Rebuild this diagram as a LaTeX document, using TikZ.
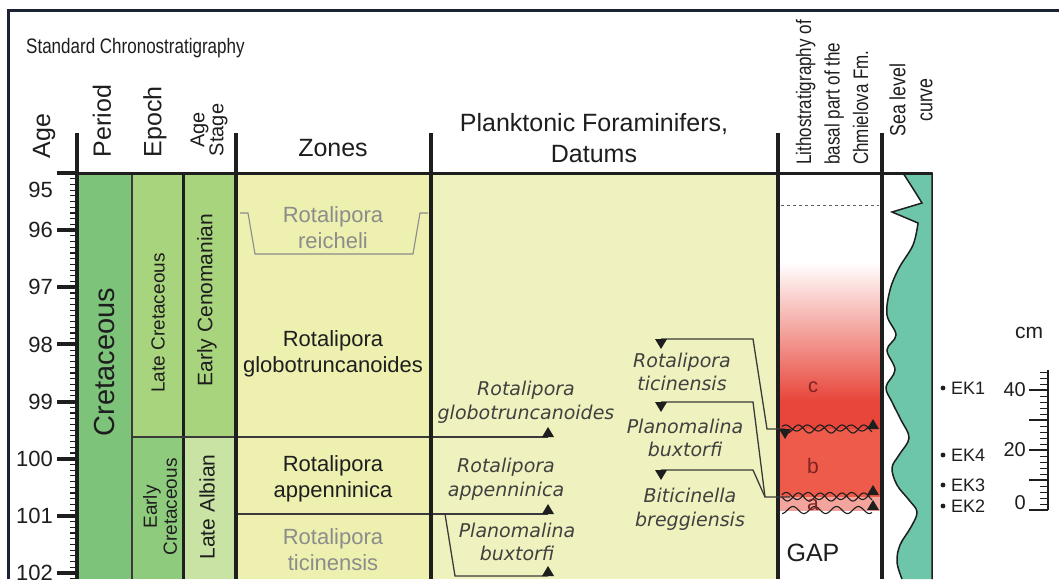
\documentclass[tikz,border=0pt]{standalone}
\usepackage{fontspec}
\setmainfont{Liberation Sans}
\newfontfamily\dvs{DejaVu Sans}
\newfontfamily\narrowf[FakeStretch=0.81]{Liberation Sans}
\newcommand\fsz[2]{\fontsize{#1pt}{#2pt}\selectfont}
\definecolor{cperiod}{HTML}{7DC47A}
\definecolor{cepochL}{HTML}{A7D47C}
\definecolor{cepochE}{HTML}{8FCB7C}
\definecolor{cstageC}{HTML}{A7D47C}
\definecolor{cstageA}{HTML}{C8E3A3}
\definecolor{czone}{HTML}{EEF0B0}
\definecolor{cdatum}{HTML}{EFF2BE}
\definecolor{csea}{HTML}{6DC6A9}
\definecolor{credc}{HTML}{E8463A}
\definecolor{credb}{HTML}{EE5B4B}
\definecolor{creda}{HTML}{F3A49C}
\definecolor{cframe}{HTML}{1B2233}
\definecolor{cgray}{HTML}{8C8C8C}
\definecolor{cdred}{HTML}{7E2222}
\definecolor{ctxt}{HTML}{1E1E1E}
\definecolor{cline}{HTML}{3A3A3A}
\begin{document}
\begin{tikzpicture}[x=1pt,y=-1pt,
  every node/.style={inner sep=0pt, text=ctxt},
  colsep/.style={line width=4pt, draw=ctxt},
  thinline/.style={line width=1.3pt, draw=cline},
  datline/.style={line width=1.3pt, draw=cline},
  hdr/.style={font=\fsz{25}{31}, align=center},
  nhdr/.style={font=\narrowf\fsz{21}{28.5}},
  zlab/.style={font=\fsz{22}{26}, align=center},
  glab/.style={zlab, text=cgray},
  dlab/.style={font=\dvs\itshape\fsz{19}{23.5}, align=center, text=ctxt!85},
  wave/.style={line width=1.1pt, draw=ctxt},
  uptri/.pic={\fill[ctxt] (-6,0) -- (6,0) -- (0,-10) -- cycle;},
  dntri/.pic={\fill[ctxt] (-6,0) -- (6,0) -- (0,10) -- cycle;}
]
\useasboundingbox (0,0) rectangle (1059,579);
\fill[white] (0,0) rectangle (1059,579);

% ---- column fills
\fill[cperiod] (77,173) rectangle (132,579);
\fill[cepochL] (132,173) rectangle (183,437);
\fill[cepochE] (132,437) rectangle (183,579);
\fill[cstageC] (183,173) rectangle (236,437);
\fill[cstageA] (183,437) rectangle (236,579);
\fill[czone] (236,173) rectangle (431,579);
\fill[cdatum] (431,173) rectangle (778,579);
% litho
\shade[top color=white, bottom color=credc] (778,262) rectangle (882,401);
\fill[credc] (778,400) rectangle (882,429);
\fill[credb] (778,429) rectangle (882,497);
\fill[creda] (778,497) rectangle (882,511);
\draw[dashed, line width=0.8pt, draw=ctxt!70] (781,205) -- (879,205);

% ---- sea level curve
\filldraw[fill=csea, draw=ctxt, line width=1.5pt]
  (932,579) -- (932,173) -- (903,173)
  -- plot[smooth, tension=0.6] coordinates {(903,173) (912,187) (922,203)}
  -- (892,212)
  -- plot[smooth, tension=0.6] coordinates {(918,223) (913,245) (899,268) (890,290) (887,315) (896,335) (887,350) (895,370) (886,387) (892,402) (901,420) (909,438) (899,455) (892,468) (897,485) (909,500) (917,512) (911,527) (900,545) (897,562) (902,579)};

% ---- age axis
\foreach \i in {0,...,71} \draw[line width=1.2pt, draw=ctxt] (70,{173+\i*5.714}) -- (77,{173+\i*5.714});
\draw[line width=4pt, draw=ctxt] (57,173) -- (77,173);
\node[anchor=east, font=\fsz{22}{24}] (a95) at (53,190) {95};
\foreach \a [count=\k] in {96,...,102} {
  \draw[line width=4pt, draw=ctxt] (57,{173+\k*57.14}) -- (77,{173+\k*57.14});
  \node[anchor=east, font=\fsz{22}{24}] (a\a) at (53,{173+\k*57.14}) {\a};
}

% ---- internal lines
\draw[thinline] (132,173) -- (132,579);
\draw[line width=3pt, draw=ctxt] (183,173) -- (183,579);
\draw[thinline] (132,437) -- (236,437);
\draw[datline] (236,437) -- (548,437);
\draw[datline] (236,514) -- (548,514);
\draw[datline] (445,514) -- (455,576) -- (548,576);
\pic at (548,437) {uptri};
\pic at (548,514) {uptri};
\pic at (548,576) {uptri};

% bracket
\draw[line width=1.1pt, draw=cgray] (240,213) -- (248,213) -- (255,254) -- (413,254) -- (420,213) -- (428,213);

% ---- header lines and separators
\draw[line width=3pt, draw=ctxt] (57,173) -- (932,173);
\foreach \xx in {77,236,431,778,882} \draw[colsep] (\xx,133) -- (\xx,579);

% ---- right datums and connectors
\coordinate (t1) at (661,339);
\coordinate (t2) at (661,402);
\coordinate (t3) at (661,470);
\coordinate (k1) at (767,429);
\coordinate (k2) at (765,497);
\coordinate (l1) at (785,429);
\coordinate (l2) at (790,497);
\draw[datline] (t1) -- (753,339) -- (k1) -- (l1);
\draw[datline] (t2) -- (753,402) -- (k2) -- (l2);
\draw[datline] (t3) -- (753,470) -- (k2);
\pic at (t1) {dntri};
\pic at (t2) {dntri};
\pic at (t3) {dntri};

% wavy surfaces
\draw[wave] plot[domain=782:872, samples=150] (\x, {429+4*sin(16.5*(\x-782))});
\draw[wave] plot[domain=782:872, samples=150] (\x, {428-3*sin(16.5*(\x-782)+30)});
\draw[wave] plot[domain=782:872, samples=150] (\x, {497+4*sin(16.5*(\x-782))});
\draw[wave] plot[domain=782:872, samples=150] (\x, {496-3.5*sin(16.5*(\x-782)+20)});
\draw[wave] plot[domain=782:872, samples=150] (\x, {510+3.5*sin(16.5*(\x-782)+90)});
\pic at (l1) {dntri};
\pic at (873,429) {uptri};
\pic at (873,495) {uptri};
\pic at (873,510) {uptri};

\node[font=\fsz{20}{22}, text=cdred] (lc) at (813,387) {c};
\node[font=\fsz{21}{22}, text=cdred] (lb) at (813,466) {b};
\node[font=\fsz{21}{22}, text=cdred] (la) at (813,505) {a};
\node[font=\fsz{25}{26}] (gap) at (813,553) {GAP};

% ---- frame
\draw[line width=3pt, draw=cframe] (8,579) -- (8,10) -- (1059,10);

% ---- header texts
\node[nhdr, anchor=west] (std) at (26,48) {Standard Chronostratigraphy};
\node[hdr, rotate=90] (hage) at (44,136) {Age};
\node[hdr, rotate=90] (hper) at (102,121) {Period};
\node[hdr, rotate=90] (hepo) at (155,122) {Epoch};
\node[font=\fsz{20}{18}, align=center, rotate=90] (hstg) at (209,130) {Age\\Stage};
\node[hdr] (hzon) at (333,148) {Zones};
\node[hdr] (hpla) at (594,138) {Planktonic Foraminifers,\\Datums};
\node[nhdr, rotate=90, anchor=west, align=left] (hlit) at (832,165) {Lithostratigraphy of\\basal part of the\\Chmielova Fm.};
\node[nhdr, font=\narrowf\fsz{22}{27}, rotate=90, align=center] (hsea) at (911,100) {Sea level\\curve};

% ---- chronostrat texts
\node[font=\fsz{29}{30}, rotate=90] (cret) at (105,362) {Cretaceous};
\node[font=\fsz{19}{20}, rotate=90] (lcr) at (158,323) {Late Cretaceous};
\node[font=\fsz{19}{20}, rotate=90, align=center] (ecr) at (160,507) {Early\\Cretaceous};
\node[font=\fsz{21}{22}, rotate=90] (ecen) at (207,300) {Early Cenomanian};
\node[font=\fsz{21}{22}, rotate=90] (lalb) at (207,507) {Late Albian};

% ---- zones
\node[glab] (zrei) at (333,228) {Rotalipora\\reicheli};
\node[zlab] (zglo) at (333,354) {Rotalipora\\globotruncanoides};
\node[zlab] (zapp) at (333,479) {Rotalipora\\appenninica};
\node[glab] (ztic) at (333,550) {Rotalipora\\ticinensis};

% ---- datums
\node[dlab] (dglo) at (526,402) {Rotalipora\\globotruncanoides};
\node[dlab] (dapp) at (506,479) {Rotalipora\\appenninica};
\node[dlab] (dbux) at (517,542) {Planomalina\\buxtorfi};
\node[dlab] (dtic) at (682,372) {Rotalipora\\ticinensis};
\node[dlab] (dbux2) at (685,438) {Planomalina\\buxtorfi};
\node[dlab] (dbre) at (690,509) {Biticinella\\breggiensis};

% ---- cm scale
\draw[line width=2.5pt, draw=ctxt] (1048,370) -- (1048,510);
\foreach \c in {0,2,...,46} \draw[line width=1pt, draw=ctxt] (1040,{510-\c*3}) -- (1048,{510-\c*3});
\foreach \c in {0,10,20,30,40} \draw[line width=2.5pt, draw=ctxt] (1029,{510-\c*3}) -- (1048,{510-\c*3});
\node[font=\fsz{21}{22}] (cm) at (1029,333) {cm};
\node[font=\fsz{20}{22}, anchor=east] (s40) at (1026,390) {40};
\node[font=\fsz{20}{22}, anchor=east] (s20) at (1026,450) {20};
\node[font=\fsz{20}{22}, anchor=east] (s0) at (1026,503) {0};

% ---- samples
\foreach \nm/\yy in {EK1/388, EK4/455, EK3/485, EK2/506} {
  \fill[ctxt] (943,\yy) circle (2.4);
  \node[font=\fsz{18}{20}, anchor=west] (\nm) at (951,\yy) {\nm};
}
\end{tikzpicture}
\end{document}
